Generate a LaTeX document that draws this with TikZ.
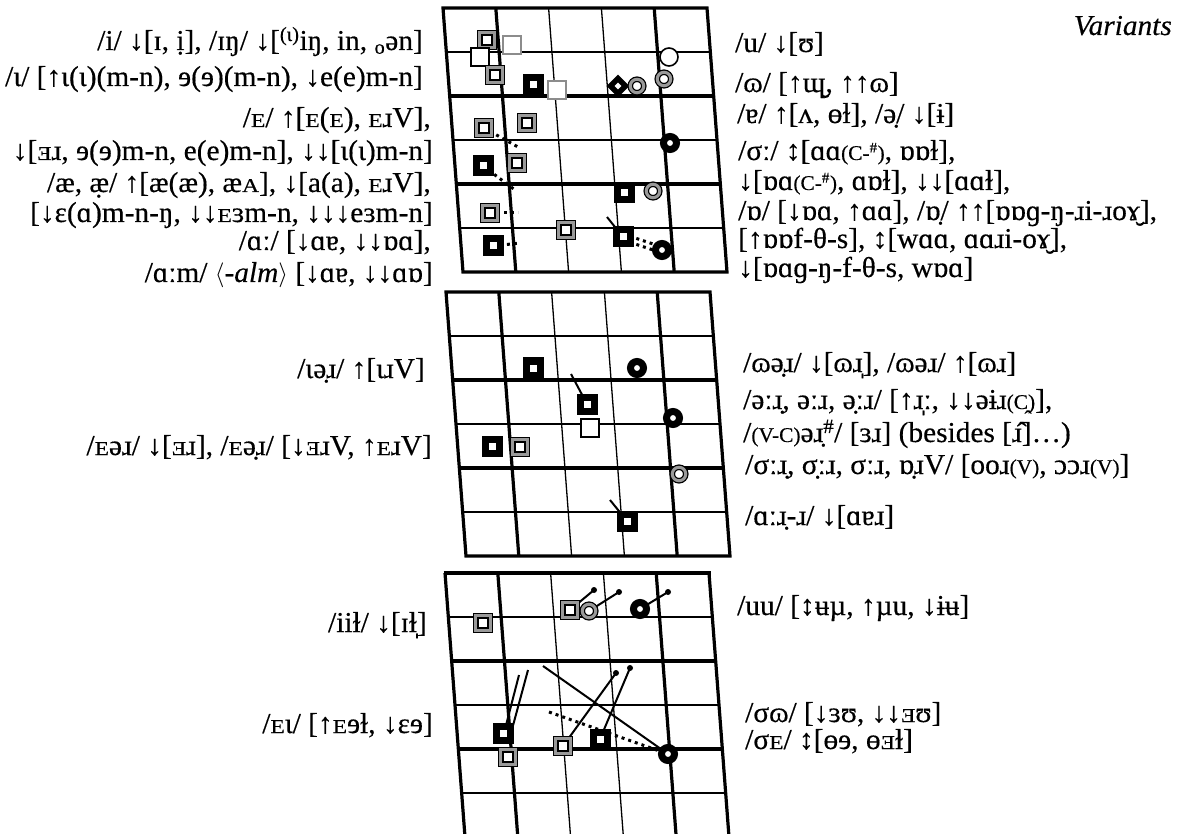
\documentclass[tikz,border=0pt]{standalone}
\usepackage{fontspec}
\usepackage{graphicx}
\setmainfont{Liberation Serif}[FakeStretch=1.02,FakeBold=0.4]
\usetikzlibrary{shapes.geometric,backgrounds}
\newcommand\scE{\scalebox{0.8}[0.68]{E}}
\newcommand\scA{\scalebox{0.8}[0.68]{A}}
\newcommand\scRE{\scalebox{0.8}[0.68]{Ǝ}}
\newcommand\sm[1]{{\fontsize{21}{22}\selectfont #1}}
\tikzset{
  mk/.style={inner sep=0pt, outer sep=0pt},
  dsq/.style={mk, rectangle, draw=black, line width=1.3pt, double=gray!80, double distance=3.4pt, fill=white, minimum size=14.5pt},
  bsq/.style={mk, rectangle, draw=black, line width=7pt, fill=white, minimum size=14pt},
  gsq/.style={mk, rectangle, draw=gray!90, line width=1.8pt, fill=white, minimum size=18pt},
  wsq/.style={mk, rectangle, draw=black, line width=1.6pt, fill=white, minimum size=18pt},
  ocirc/.style={mk, circle, draw=black, line width=1.6pt, fill=white, minimum size=18pt},
  dcirc/.style={mk, circle, draw=black, line width=1.3pt, double=gray!80, double distance=3pt, fill=white, minimum size=13.5pt},
  bring/.style={mk, circle, draw=black, line width=7pt, fill=white, minimum size=13pt},
  bdia/.style={mk, diamond, draw=black, line width=5.5pt, fill=white, minimum size=15pt},
  dotend/.style={mk, circle, fill=black, minimum size=6pt},
  conn/.style={line width=2pt},
  dotl/.style={line width=3pt, dash pattern=on 3pt off 4pt},
  gthin/.style={line width=1.3pt},
  gthick/.style={line width=3.2pt, line join=miter},
  lt/.style={anchor=base east, inner sep=0pt, font=\fontsize{28.8}{30}\selectfont},
  rt/.style={anchor=base west, inner sep=0pt, font=\fontsize{28.8}{30}\selectfont},
}
\begin{document}
\begin{tikzpicture}[x=1pt,y=-1pt]
\useasboundingbox (0,0) rectangle (1189,834);
% ---------- top panel ----------
\foreach \i in {1,3,5} \draw[gthin] ({443+20/264*\i*44},{8+\i*44}) -- ++(264,0);
\foreach \i in {2,4} \draw[gthick] ({443+20/264*\i*44},{8+\i*44}) -- ++(264,0);
\foreach \j in {2,3} \draw[gthin] ({443+\j*52.8},8) -- ({463+\j*52.8},272);
\foreach \j in {1,4} \draw[gthick] ({443+\j*52.8},8) -- ({463+\j*52.8},272);
\draw[gthick] (443,8) -- (707,8) -- (727,272) -- (463,272) -- cycle;
% ---------- middle panel ----------
\foreach \i in {1,3,5} \draw[gthin] ({446+20/264*\i*44},{292+\i*44}) -- ++(264,0);
\foreach \i in {2,4} \draw[gthick] ({446+20/264*\i*44},{292+\i*44}) -- ++(264,0);
\foreach \j in {2,3} \draw[gthin] ({446+\j*52.8},292) -- ({466+\j*52.8},556);
\foreach \j in {1,4} \draw[gthick] ({446+\j*52.8},292) -- ({466+\j*52.8},556);
\draw[gthick] (446,292) -- (710,292) -- (730,556) -- (466,556) -- cycle;
% ---------- bottom panel ----------
\foreach \i in {1,3,5} \draw[gthin] ({445+20/264*\i*44},{573+\i*44}) -- ++(264,0);
\foreach \i in {2,4} \draw[gthick] ({445+20/264*\i*44},{573+\i*44}) -- ++(264,0);
\foreach \j in {2,3} \draw[gthin] ({445+\j*52.8},573) -- ({445+\j*52.8+20/264*261},834);
\foreach \j in {0,1,4,5} \draw[gthick] ({445+\j*52.8},573) -- ({445+\j*52.8+20/264*261},834);
\draw[gthick] (443.5,573) -- (710.5,573);
% ---------- top markers ----------
\node[dsq] (t1) at (487,40) {};
\node[gsq] (t2) at (512,45) {};
\node[wsq] (t3) at (480,57) {};
\node[dsq] (t4) at (495,75) {};
\node[bsq] (t5) at (533,85) {};
\node[gsq] (t6) at (557,90) {};
\node[bdia] (t7) at (618,86) {};
\node[dcirc] (t8) at (637,86) {};
\node[ocirc] (t9) at (669,57) {};
\node[dcirc] (t10) at (664,79) {};
\node[dsq] (t11) at (527,123) {};
\node[dsq] (t12) at (484,128) {};
\coordinate (t12e) at (518,147);
\node[bring] (t13) at (670,143) {};
\node[bsq] (t14) at (483,166) {};
\coordinate (t14e) at (515,190);
\node[dsq] (t15) at (517,163) {};
\node[bsq] (t16) at (624,193) {};
\node[dcirc] (t17) at (653,191) {};
\node[dsq] (t18) at (490,213) {};
\coordinate (t18e) at (518,213);
\node[bsq] (t19) at (493,246) {};
\coordinate (t19e) at (520,243);
\node[dsq] (t20) at (566,230) {};
\node[bsq] (t21) at (623,237) {};
\coordinate (t21s) at (607,217);
\node[bring] (t22) at (662,250) {};
% ---------- middle markers ----------
\node[bsq] (m1) at (533,368) {};
\node[bring] (m2) at (637,368) {};
\node[bsq] (m3) at (587,404) {};
\coordinate (m3s) at (571,374);
\node[wsq] (m4) at (590,428) {};
\node[bring] (m5) at (673,418) {};
\node[bsq] (m6) at (492,446) {};
\node[dsq] (m7) at (520,447) {};
\node[dcirc] (m8) at (679,474) {};
\node[bsq] (m9) at (627,521) {};
\coordinate (m9s) at (610,500);
% ---------- bottom markers ----------
\node[dsq] (b1) at (483,623) {};
\node[dsq] (b2) at (570,610) {};
\node[dotend] (b2d) at (594,590) {};
\node[dcirc] (b3) at (589,611) {};
\node[dotend] (b3d) at (619,592) {};
\node[bring] (b4) at (640,609) {};
\node[dotend] (b4d) at (668,592) {};
\node[bsq] (b5) at (503,733) {};
\coordinate (b5a) at (519,675);
\coordinate (b5b) at (528,670);
\node[dsq] (b6) at (508,757) {};
\node[dsq] (b7) at (563,746) {};
\node[dotend] (b7d) at (616,673) {};
\node[bsq] (b8) at (600,739) {};
\node[dotend] (b8d) at (630,668) {};
\node[bring] (b9) at (668,754) {};
\coordinate (b9s) at (543,666);
\coordinate (b9t) at (549,712);
% ---------- connectors (behind markers) ----------
\begin{pgfonlayer}{background}
\draw[dotl] (t12.center) -- (t12e);
\draw[dotl] (t14.center) -- (t14e);
\draw[dotl] (t18.center) -- (t18e);
\draw[dotl] (t19.center) -- (t19e);
\draw[dotl] ([yshift=3pt]t21.center) -- ([yshift=3pt]t22.center);
\draw[dotl] ([yshift=-3pt]t21.center) -- ([yshift=-3pt]t22.center);
\draw[conn] (t21s) -- (t21.center);
\draw[conn] (m3s) -- (m3.center);
\draw[conn] (m9s) -- (m9.center);
\draw[conn] (b2.center) -- (b2d.center);
\draw[conn] (b3.center) -- (b3d.center);
\draw[conn] (b4.center) -- (b4d.center);
\draw[conn] ([xshift=1pt]b5.center) -- (b5a);
\draw[conn] ([xshift=8pt]b5.center) -- (b5b);
\draw[conn] (b7.center) -- (b7d.center);
\draw[conn] (b8.center) -- (b8d.center);
\draw[conn] (b9s) -- (b9.center);
\draw[dotl] (b9t) -- (b9.center);
\end{pgfonlayer}
% ---------- texts, top ----------
\node[lt] (L1) at (423,50) {/i/ ↓[ɪ, i^^^^0323], /ɪŋ/ ↓[\textsuperscript{(ɩ)}iŋ, in, \textsubscript{o}ən]};
\node[lt] (L2) at (423,86) {/ɩ/ [↑ɩ(ɩ)(m-n), ɘ(ɘ)(m-n), ↓e(e)m-n]};
\node[lt] (L3) at (431,127) {/\scE/ ↑[\scE(\scE), \scE{}ɹV],};
\node[lt] (L4) at (433,160) {↓[\scRE{}ɹ, ɘ(ɘ)m-n, e(e)m-n], ↓↓[ɩ(ɩ)m-n]};
\node[lt] (L5) at (431,192) {/æ, æ^^^^0323/ ↑[æ(æ), æ\scA], ↓[a(a), \scE{}ɹV],};
\node[lt] (L6) at (433,222) {[↓ɛ(ɑ)m-n-ŋ, ↓↓\scE{}ɜm-n, ↓↓↓eɜm-n]};
\node[lt] (L7) at (431,250) {/ɑː/ [↓ɑɐ, ↓↓ɒɑ],};
\node[lt] (L8) at (433,282) {/ɑːm/ $\langle$-\textit{alm}$\rangle$ [↓ɑɐ, ↓↓ɑɒ]};
\node[anchor=base east, inner sep=0pt, font=\fontsize{28.8}{30}\selectfont\itshape] (var) at (1172,35) {Variants};
\node[rt] (R1) at (735,52) {/u/ ↓[ʊ]};
\node[rt] (R2) at (735,92) {/ɷ/ [↑ɰ^^^^032e, ↑↑ɷ]};
\node[rt] (R3) at (737,123) {/ɐ/ ↑[ʌ, ɵɫ], /ə^^^^0323/ ↓[ɨ]};
\node[rt] (R4) at (738,160) {/σː/ ↕[ɑɑ\sm{(C-\textsuperscript{\#})}, ɒɒɫ],};
\node[rt] (R5) at (738,190) {↓[ɒɑ\sm{(C-\textsuperscript{\#})}, ɑɒɫ], ↓↓[ɑɑɫ],};
\node[rt] (R6) at (738,220) {/ɒ/ [↓ɒɑ, ↑ɑɑ], /ɒ^^^^0323/ ↑↑[ɒɒɡ-ŋ-ɹi-ɹoɤ^^^^032e],};
\node[rt] (R7) at (738,248) {[↑ɒɒf-θ-s], ↕[wɑɑ, ɑɑɹi-oɤ^^^^032e],};
\node[rt] (R8) at (738,277) {↓[ɒɑɡ-ŋ-f-θ-s, wɒɑ]};
% ---------- texts, middle ----------
\node[lt] (ML1) at (425,378) {/ɩə^^^^0323ɹ/ ↑[ɩɹV]};
\node[lt] (ML2) at (432,455) {/\scE{}əɹ/ ↓[\scRE{}ɹ], /\scE{}ə^^^^0323ɹ/ [↓\scRE{}ɹV, ↑\scE{}ɹV]};
\node[rt] (MR1) at (743,372) {/ɷə^^^^0323ɹ/ ↓[ɷɹ^^^^0329], /ɷəɹ/ ↑[ɷɹ]};
\node[rt] (MR2) at (743,409) {/əːɹ^^^^0323, əːɹ, ə^^^^0323ːɹ/ [↑ɹ^^^^0329ː, ↓↓əɨɹ\sm{(C^^^^032d)}],};
\node[rt] (MR3) at (743,442) {/\sm{(V-C)}əɹ^^^^0323\textsuperscript{\#}/ [ɜɹ] (besides [ɹ^^^^0302]…)};
\node[rt] (MR4) at (745,474) {/σːɹ^^^^0323, σ^^^^0323ːɹ, σːɹ, ɒ^^^^0323ɹV/ [ooɹ\sm{(V)}, ɔɔɹ\sm{(V)}]};
\node[rt] (MR5) at (745,525) {/ɑːɹ^^^^0323-ɹ/ ↓[ɑɐɹ]};
% ---------- texts, bottom ----------
\node[lt] (BL1) at (427,632) {/iiɫ/ ↓[ɪɫ^^^^0329]};
\node[lt] (BL2) at (433,733) {/\scE{}ɩ/ [↑\scE{}ɘɫ, ↓ɛɘ]};
\node[rt] (BR1) at (737,615) {/uu/ [↕ʉµ, ↑µu, ↓ɨʉ]};
\node[rt] (BR2) at (745,722) {/σɷ/ [↓ɜʊ, ↓↓\scRE{}ʊ]};
\node[rt] (BR3) at (745,749) {/σ\scE/ ↕[ɵɘ, ɵ\scRE{}ɫ]};
\end{tikzpicture}
\end{document}
